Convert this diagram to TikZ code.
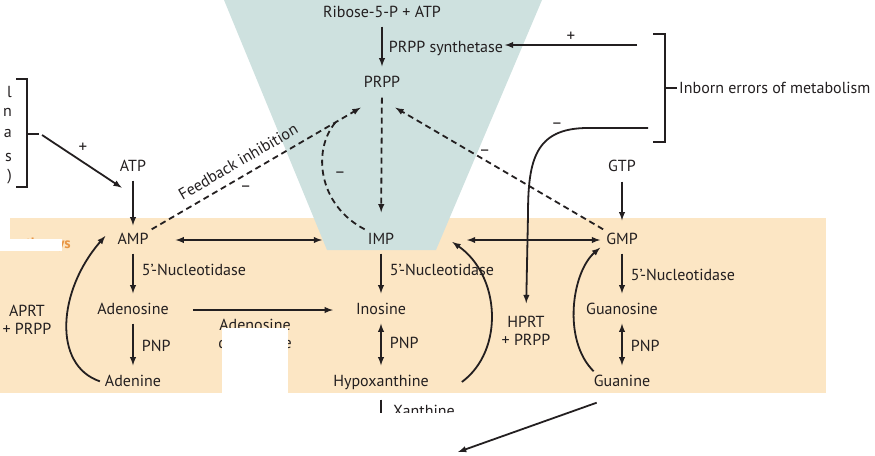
\documentclass[tikz,border=0pt]{standalone}
\usepackage{fontspec}
\setmainfont{PT Sans}
\usetikzlibrary{calc, arrows}
\tikzset{>=latex}
\definecolor{salvagetan}{RGB}{252,230,196}
\definecolor{denovoteal}{RGB}{206,225,223}
\definecolor{ink}{RGB}{35,31,32}
\definecolor{pathorange}{RGB}{232,150,70}

\begin{document}
\begin{tikzpicture}[x=1pt, y=-1pt, font=\fontsize{16}{18}\selectfont,
  every node/.append style={text=ink},
  met/.style={inner sep=3pt, text height=11.5pt, text depth=3.5pt},
  lab/.style={inner sep=2pt, align=center},
  enz/.style={right, xshift=7pt, inner sep=1pt},
  sign/.style={inner sep=1pt, font=\fontsize{17}{18}\selectfont},
  flow/.style={->, line width=1.8pt, draw=ink},
  vstep/.style={shorten <=3pt, shorten >=6pt},
  inhib/.style={->, line width=1.8pt, draw=ink, dash pattern=on 6pt off 4pt},
  brack/.style={line width=1.3pt, draw=ink}]
\useasboundingbox (0,0) rectangle (875,455);

% salvage band and de novo funnel
\fill[salvagetan] (10,218) rectangle (826,393);
\fill[salvagetan] (0,250) rectangle (10,393);
\fill[denovoteal] (224,0) -- (542,0) -- (436,250) -- (327,250) -- cycle;
\node[anchor=east, inner sep=0pt, text=pathorange, font=\bfseries\fontsize{15}{16}\selectfont] (salvagelbl) at (71,245) {pathways};
\fill[white] (0,239) rectangle (62,251);

% metabolites
\node[met] (ribose) at (382,13) {Ribose-5-P + ATP};
\node[met] (prpp) at (382,83) {PRPP};
\node[met] (atp) at (133,167) {ATP};
\node[met] (gtp) at (622,167) {GTP};
\node[met] (amp) at (133,240) {AMP};
\node[met] (imp) at (381,240) {IMP};
\node[met] (gmp) at (622,240) {GMP};
\node[met] (adenosine) at (133,310) {Adenosine};
\node[met] (inosine) at (381,310) {Inosine};
\node[met] (guanosine) at (622,310) {Guanosine};
\node[met] (adenine) at (133,382) {Adenine};
\node[met] (hypox) at (381,382) {Hypoxanthine};
\node[met] (guanine) at (622,382) {Guanine};
\node[met, anchor=west] (xanthine) at (390,412.5) {Xanthine};
\node[lab] (aprt) at (27,320) {APRT\\+ PRPP};
\node[lab] (hprt) at (526,331) {HPRT\\+ PRPP};
\node[lab] (deam) at (255,334) {Adenosine\\deaminase};
\fill[white] (222,328) rectangle (288,399);

% left bracket (cut off)
\foreach \y/\c in {92/l, 112/n, 133/a, 157/s, 177/)}
  \node[anchor=east, inner sep=0pt] (cut\y) at (12,\y) {\c};
\coordinate (lbMid) at (42,135);
\draw[brack] (16,79) -- (27,79) -- (27,187) -- (16,187);
\draw[brack] (27,134) -- (39,134);

% inborn errors bracket
\coordinate (actStart) at (637,45);
\coordinate (errLow) at (648,128);
\draw[brack] (653,34) -- (665,34) -- (665,142) -- (653,142);
\draw[brack] (665,88) -- (677,88);
\node[right, inner sep=1pt] (inborn) at (678,88) {Inborn errors of metabolism};

% main flow
\draw[flow, vstep] (prpp.north |- ribose.south) -- node[enz, xshift=-2pt] (synth) {PRPP synthetase} (prpp.north);
\draw[flow, shorten <=3pt, shorten >=4pt] (atp) -- (amp);
\draw[flow, shorten <=4pt, shorten >=9pt] (gtp) -- (gmp);
\draw[flow, vstep] (amp) -- node[enz, yshift=5pt] (nt1) {5’-Nucleotidase} (adenosine);
\draw[flow, vstep] (imp) -- node[enz, yshift=5pt] (nt2) {5’-Nucleotidase} (inosine);
\draw[flow, vstep] (gmp) -- node[enz] (nt3) {5’-Nucleotidase} (guanosine);
\draw[flow, vstep] (adenosine) -- node[enz] (pnp1) {PNP} (adenine);
\draw[flow, <->, vstep] (inosine) -- node[enz, yshift=3pt] (pnp2) {PNP} (hypox);
\draw[flow, <->, vstep] (guanosine) -- node[enz] (pnp3) {PNP} (guanine);
\coordinate (funnelL) at (322,240);
\coordinate (funnelR) at (467,240);
\draw[flow, <->, shorten <=24pt] (amp) -- (funnelL);
\draw[flow, <->, shorten >=3pt] (funnelR) -- (gmp);
\draw[flow, shorten <=21pt, shorten >=20pt] (adenosine) -- (inosine);
\draw[flow, shorten <=7pt] (hypox) -- (hypox |- xanthine.south);
\fill[white] (200,413) rectangle (600,455);

% salvage loops
\draw[flow, shorten <=2pt] (adenine.west) .. controls (52,365) and (58,290) .. ([xshift=-9pt, yshift=4pt]amp.west);
\draw[flow] ([xshift=30pt]hypox.east) .. controls (505,350) and (500,275) .. ([xshift=55pt, yshift=-2pt]imp.east);
\draw[flow] ([xshift=3pt]guanine.north west) .. controls (562,340) and (572,272) .. ([xshift=-3pt, yshift=3pt]gmp.south west);

% feedback
\draw[inhib] (amp.north east) -- node[sloped, above=5pt, pos=.45] (fbText) {Feedback inhibition} node[sign, below=9pt, pos=.45] (fbMinus) {–} ([yshift=-14pt]prpp.south west);
\draw[inhib] (gmp.north west) -- node[sign, above=3pt, pos=.57] (gmpMinus) {–} ([xshift=-8pt, yshift=-14pt]prpp.south east);
\draw[inhib, shorten <=4pt, shorten >=17pt] (prpp) -- (imp);
\coordinate (fbJoin) at ($(amp.north east)!.88!([yshift=-14pt]prpp.south west)$);
\draw[line width=1.8pt, ink, dash pattern=on 6pt off 4pt] (imp.north west) .. controls (318,205) and (312,150) .. (fbJoin);
\node[sign] (impMinus) at (340,175) {–};

% regulation from inborn errors
\draw[flow] (actStart) -- (actStart -| synth.east) node[sign, pos=.5, above=2pt] (plusAct) {+};
\draw[flow, shorten >=11pt] (errLow) -- (588,128) .. controls (535,128) and (528,160) .. (528,215) -- (hprt.north);
\node[sign] (errMinus) at (557,126) {–};
\draw[flow] (lbMid) -- ([xshift=5pt, yshift=-10pt]atp.south west);
\node[sign] (plusAtp) at (83,148) {+};

% to degradation
\coordinate (outArrow) at (458,452);
\draw[flow] ([xshift=6pt, yshift=-10pt]guanine.south west) -- (outArrow);
\end{tikzpicture}
\end{document}
